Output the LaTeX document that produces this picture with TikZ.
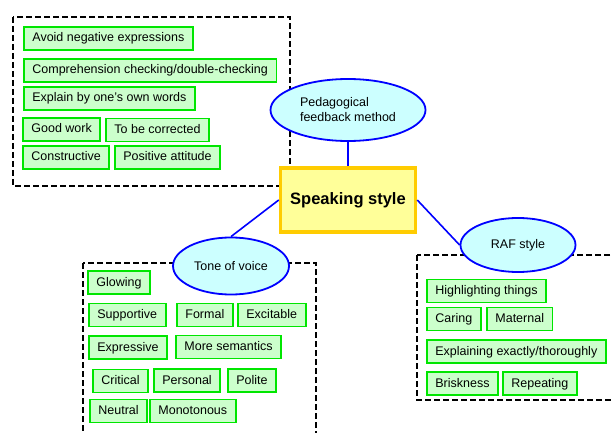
\documentclass[tikz,border=0pt]{standalone}
\usepackage{fontspec}
\setmainfont{Liberation Sans}
\usetikzlibrary{shapes.geometric}
\definecolor{itemedge}{RGB}{0,230,0}
\definecolor{itemfill}{RGB}{204,255,204}
\definecolor{topicfill}{RGB}{204,255,255}
\definecolor{stylefill}{RGB}{255,255,153}
\definecolor{styleedge}{RGB}{255,204,0}

\begin{document}
\begin{tikzpicture}[x=1pt,y=-1pt,
  item/.style={draw=itemedge, fill=itemfill, line width=1.8pt, anchor=west,
    inner xsep=8.5pt, inner ysep=0pt, minimum height=23pt,
    text height=9pt, text depth=2pt,
    font=\fontsize{12.5}{14}\selectfont},
  topic/.style={ellipse, draw=blue, fill=topicfill, line width=1.8pt, inner sep=0pt,
    font=\fontsize{12.5}{15}\selectfont},
  frame/.style={line width=1.2pt, dash pattern=on 6pt off 3pt},
  link/.style={blue, line width=1.6pt}]

\useasboundingbox (0,0) rectangle (611,433);

\draw [frame]  (13,17) rectangle (290,186);
\draw [frame]  (83,263) rectangle (316,445);
\draw [frame]  (417,255) rectangle (625,400);

\node [item] (avoid) at (23,38.5) {Avoid negative expressions};
\node [item] (compr) at (23,70.5) {Comprehension checking/double-checking};
\node [item] (explain) at (23,98.5) {Explain by one's own words};
\node [item] (good) at (22,129.5) {Good work};
\node [item] (correct) at (105,130) {To be corrected};
\node [item] (constr) at (22,157.5) {Constructive};
\node [item] (positive) at (114,157.5) {Positive attitude};

\node [item] (glowing) at (87,282.5) {Glowing};
\node [item] (support) at (88,315) {Supportive};
\node [item] (formal) at (176,315) {Formal};
\node [item] (excite) at (237,315) {Excitable};
\node [item] (express) at (88,347.5) {Expressive};
\node [item] (semantic) at (175,347) {More semantics};
\node [item] (critical) at (92,381) {Critical};
\node [item] (personal) at (153,380.5) {Personal};
\node [item] (polite) at (227,380.5) {Polite};
\node [item] (neutral) at (89,411) {Neutral};
\node [item] (monoton) at (149,411) {Monotonous};

\node [item] (highlight) at (426,291) {Highlighting things};
\node [item] (caring) at (426,319) {Caring};
\node [item] (maternal) at (486,319) {Maternal};
\node [item] (exactly) at (426,351.5) {Explaining exactly/thoroughly};
\node [item] (brisk) at (426,383.5) {Briskness};
\node [item] (repeat) at (502,383.5) {Repeating};

\node [topic, minimum width=155pt, minimum height=62pt, align=left] (pfm) at (348,110)
  {Pedagogical\\feedback method};
\node [topic, minimum width=116pt, minimum height=57pt] (tone) at (231,266) {Tone of voice};
\node [topic, minimum width=115pt, minimum height=54pt] (raf) at (518,245) {RAF style};

\node [draw=styleedge, fill=stylefill, line width=3.5pt, minimum width=135pt,
  minimum height=64pt, font=\fontsize{16.5}{18}\selectfont\bfseries] (style) at (348,200)
  {Speaking style};

\draw [link]  (pfm.south) -- (style.north);
\draw [link]  (style.west) -- (tone.north);
\draw [link]  (style.east) -- (raf.west);

\end{tikzpicture}
\end{document}
